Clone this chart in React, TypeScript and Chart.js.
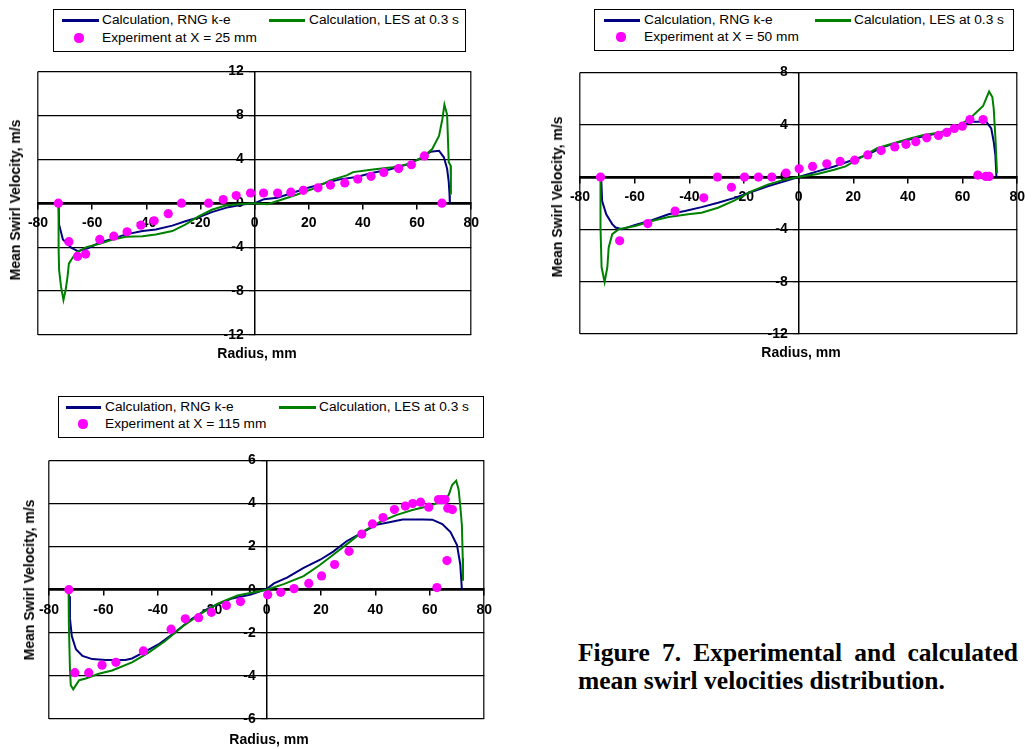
import React, { useEffect, useRef } from "react";
import { Chart, registerables } from "chart.js";

Chart.register(...registerables);

const SANS = "'Liberation Sans', Arial, Helvetica, sans-serif";
const SERIF = "'Liberation Serif', 'Times New Roman', Times, serif";

const RADIUS_MIN = -80;
const RADIUS_MAX = 80;
const RADIUS_STEP = 20;

const LABEL_RNG = "Calculation, RNG k-e";
const LABEL_LES = "Calculation, LES at 0.3 s";
const X_TITLE = "Radius, mm";
const Y_TITLE = "Mean Swirl Velocity, m/s";
const CAPTION_1 = "Figure 7.  Experimental  and  calculated";
const CAPTION_2 = "mean swirl velocities distribution.";

// ---------- X = 25 mm ----------
const rng25R = [-72.4, -72.2, -70.8, -67.7, -65.3, -61.6, -57.3, -51.5, -47.5, -41.4, -36.5, -30.4, -25.6, -20.7, -15.8, -9.7, -3.7, 0, 3.5, 8.4, 13.3, 19.4, 25.5, 31.5, 37.6, 43.7, 49.8, 55.9, 62, 65, 68.1, 69.9, 71.1, 71.7, 72, 72.1];
const rng25V = [0, -1.96, -3.3, -4.06, -4.36, -4.1, -3.6, -3.16, -2.84, -2.54, -2.4, -2.04, -1.65, -1.29, -0.81, -0.36, -0.1, 0, 0.37, 0.5, 0.88, 1.39, 1.78, 2.17, 2.38, 2.77, 3.07, 3.49, 4.18, 4.69, 4.78, 4.18, 3.13, 1.93, 0.73, 0];
const les25R = [-72.4, -72.4, -72.2, -71.5, -70.6, -69.8, -69.1, -68.6, -67.6, -65.8, -62.1, -57.2, -52.4, -47.5, -41.4, -36.5, -30.4, -25.6, -20.7, -15.8, -11, -6.1, 0, 4.75, 9.6, 15.7, 21.8, 27.9, 34, 36.4, 43.7, 51, 57.1, 62, 65.6, 68.1, 69.3, 70.1, 71.1, 71.7, 72.4, 72.5];
const les25V = [0, -4, -6.1, -7.6, -8.8, -7.9, -6.7, -5.5, -5.1, -4.5, -4.0, -3.7, -3.3, -3.05, -3.0, -2.84, -2.54, -1.95, -1.2, -0.6, -0.24, -0.09, 0, -0.1, 0.29, 0.79, 1.33, 2.08, 2.53, 2.83, 3.07, 3.28, 3.58, 4.18, 4.93, 6.13, 7.6, 8.97, 8.07, 3.73, 3.4, 0.8];
const exp25R = [-72.5, -68.6, -65.4, -62.4, -57.2, -52, -47.1, -42, -37.1, -31.9, -27, -17, -11.6, -6.8, -1.5, 3.3, 8.5, 13.4, 18, 23.4, 28, 33.3, 38.1, 43, 47.7, 53.2, 57.9, 62.7, 69.2];
const exp25V = [0, -3.5, -4.85, -4.63, -3.3, -3.0, -2.6, -2.0, -1.6, -0.95, 0, 0, 0.33, 0.7, 0.93, 0.93, 0.93, 1.0, 1.17, 1.4, 1.65, 1.85, 2.2, 2.45, 2.8, 3.15, 3.5, 4.3, 0];

// ---------- X = 50 mm ----------
const rng50R = [-72.5, -72.2, -71.9, -70.4, -68.2, -67, -64.6, -59.8, -53.7, -47.6, -41.6, -35.5, -29.5, -23.4, -17.3, -11.3, -5.2, 0, 6.9, 13, 19, 25.1, 31.2, 37.2, 43.3, 49.3, 55.4, 60.2, 63.9, 68.7, 70.5, 71.4, 72, 72.4];
const rng50V = [0, -0.3, -1.84, -2.85, -3.6, -3.86, -3.99, -3.66, -3.3, -2.85, -2.6, -2.3, -1.97, -1.59, -1.14, -0.71, -0.33, 0, 0.43, 0.81, 1.24, 1.69, 2.32, 2.7, 3.0, 3.26, 3.59, 4.02, 4.22, 4.22, 3.71, 2.7, 1.69, 0];
const les50R = [-72.5, -72.5, -72.1, -71, -70, -69.5, -68.2, -65.8, -59.8, -53.7, -47.6, -40.4, -35.5, -29.5, -23.4, -17.3, -11.3, -5.2, 0, 6.9, 13, 17.2, 22.7, 28.7, 34.8, 40.8, 45.7, 51.8, 57.8, 62.7, 67.5, 69.7, 70.9, 71.4, 72.1, 72.6];
const les50V = [0, -3.86, -6.9, -8.03, -6.9, -5.38, -4.37, -3.99, -3.74, -3.36, -3.06, -2.85, -2.73, -2.35, -1.79, -1.09, -0.58, -0.2, 0, 0.23, 0.56, 0.81, 1.49, 2.2, 2.58, 2.95, 3.21, 3.41, 3.84, 4.47, 5.43, 6.54, 6.11, 5.23, 2.7, 0.3];
const exp50R = [-72.5, -65.5, -55.2, -45.2, -34.7, -29.7, -24.6, -19.8, -14.7, -9.8, -4.6, 0.2, 5.1, 10.3, 15.2, 20.5, 25.3, 30.2, 35.2, 39.3, 42.9, 46.9, 51.2, 54.2, 57, 59.9, 62.7, 67.5, 65.6, 68.5, 69.7];
const exp50V = [0, -4.87, -3.56, -2.6, -1.59, 0, -0.78, 0, 0, 0, 0.3, 0.63, 0.81, 1.01, 1.19, 1.29, 1.69, 2.02, 2.3, 2.5, 2.7, 3.0, 3.18, 3.41, 3.71, 3.89, 4.39, 4.39, 0.15, 0.05, 0.05];

// ---------- X = 115 mm ----------
const rng115R = [-72.8, -72.6, -72.3, -71.6, -70.1, -67.7, -64.1, -59.2, -51.9, -49.5, -45.9, -39.8, -33.7, -27.7, -21.6, -13.1, -5.8, 0, 2.7, 7.5, 13.6, 19.7, 24.5, 29.4, 35.4, 40.3, 45.1, 50, 57.3, 60.9, 64.6, 67.6, 70, 71.2, 71.8];
const rng115V = [0, -0.3, -1.33, -2.16, -2.76, -3.07, -3.22, -3.26, -3.26, -3.19, -2.95, -2.54, -1.98, -1.37, -0.88, -0.42, -0.23, 0.03, 0.29, 0.56, 1.01, 1.39, 1.77, 2.25, 2.67, 3.01, 3.13, 3.26, 3.26, 3.25, 3.05, 2.67, 2.07, 1.16, 0];
const les115R = [-72.8, -72.7, -72.3, -72, -71.1, -70.1, -68.9, -66.5, -61.7, -56.8, -49.5, -43.4, -37.4, -30.1, -24, -18, -10.7, 0, 6.3, 13.6, 19.7, 24.5, 30.6, 35.4, 41.5, 47.6, 53.6, 59.7, 64.6, 67, 68.2, 69.7, 70.6, 71.2, 71.8, 72.1, 72.2];
const les115V = [0, -1.56, -3.67, -4.43, -4.62, -4.43, -4.2, -4.12, -3.9, -3.75, -3.37, -2.92, -2.39, -1.63, -1.1, -0.65, -0.27, 0, 0.26, 0.63, 1.16, 1.62, 2.22, 2.7, 3.13, 3.46, 3.7, 3.88, 4.11, 4.41, 4.86, 5.06, 4.64, 3.88, 2.98, 1.47, 0.41];
const exp115R = [-72.7, -70.5, -65.4, -60.5, -55.4, -45.3, -35.1, -29.9, -25, -20.3, -14.8, -9.6, 0.4, 5.2, 10.1, 15.5, 20.2, 25, 30.3, 35, 38.9, 42.8, 47, 51, 53.7, 56.6, 59.6, 63.2, 64.4, 65.6, 66.6, 68.3, 66.3, 62.6];
const exp115V = [0, -3.85, -3.85, -3.5, -3.37, -2.84, -1.83, -1.35, -1.3, -1.05, -0.73, -0.55, -0.24, -0.12, 0.05, 0.29, 0.64, 1.17, 1.78, 2.58, 3.05, 3.35, 3.72, 3.88, 4.0, 4.06, 3.83, 4.18, 4.18, 4.18, 3.78, 3.72, 1.35, 0.1];

const BLUE = "#000080";
const GREEN = "#008000";
const MAGENTA = "#FF00FF";

type Rect = { l: number; t: number; r: number; b: number };

const PAD = { left: 24, right: 10, top: 10, bottom: 26 };

function pts(xs: number[], ys: number[]) {
  return xs.map((x, i) => ({ x, y: ys[i] }));
}

type PanelProps = {
  plot: Rect;
  yMin: number;
  yMax: number;
  yStep: number;
  rngR: number[];
  rngV: number[];
  lesR: number[];
  lesV: number[];
  expR: number[];
  expV: number[];
};

function Panel(p: PanelProps) {
  const ref = useRef<HTMLCanvasElement | null>(null);
  const w = p.plot.r - p.plot.l + PAD.left + PAD.right;
  const h = p.plot.b - p.plot.t + PAD.top + PAD.bottom;
  useEffect(() => {
    const tickFont = { family: SANS, size: 14, weight: "bold" as const };
    const chart = new Chart(ref.current as HTMLCanvasElement, {
      type: "scatter",
      data: {
        datasets: [
          {
            label: "Experiment",
            data: pts(p.expR, p.expV),
            showLine: false,
            pointRadius: 4.6,
            pointBackgroundColor: MAGENTA,
            pointBorderWidth: 0,
            pointBorderColor: MAGENTA,
            order: 0,
          },
          {
            label: LABEL_LES,
            data: pts(p.lesR, p.lesV),
            showLine: true,
            borderColor: GREEN,
            borderWidth: 2,
            pointRadius: 0,
            tension: 0,
            order: 1,
          },
          {
            label: LABEL_RNG,
            data: pts(p.rngR, p.rngV),
            showLine: true,
            borderColor: BLUE,
            borderWidth: 2,
            pointRadius: 0,
            tension: 0,
            order: 2,
          },
        ],
      },
      options: {
        animation: false,
        responsive: false,
        layout: { padding: PAD },
        plugins: { legend: { display: false }, tooltip: { enabled: false }, title: { display: false } },
        scales: {
          x: {
            type: "linear",
            min: RADIUS_MIN,
            max: RADIUS_MAX,
            position: { y: 0 } as any,
            ticks: { stepSize: RADIUS_STEP, font: tickFont, color: "#000", maxRotation: 0, padding: 7 },
            grid: {
              color: (ctx: any) => (ctx.tick && Math.abs(ctx.tick.value) === RADIUS_MAX ? "#333" : "rgba(0,0,0,0)"),
              lineWidth: 1.5,
              tickColor: "#000",
              tickLength: 5,
              tickWidth: 1.5,
            },
            border: { color: "#000", width: 2.5 },
          },
          y: {
            type: "linear",
            min: p.yMin,
            max: p.yMax,
            position: { x: 0 } as any,
            ticks: {
              stepSize: p.yStep,
              font: tickFont,
              color: "#000",
              padding: 5,
              callback: (v: any) => `${v}\u2002 `,
            },
            grid: {
              color: "#000",
              lineWidth: (ctx: any) => (ctx.tick && ctx.tick.value === 0 ? 2.5 : 1.2),
              tickColor: "#000",
              tickLength: 5,
              tickWidth: 1.2,
            },
            border: { color: "#000", width: 1.5 },
          },
        },
      },
    });
    return () => chart.destroy();
  }, []);
  return (
    <canvas
      ref={ref}
      width={w}
      height={h}
      style={{ position: "absolute", left: p.plot.l - PAD.left, top: p.plot.t - PAD.top, width: w, height: h }}
    />
  );
}

type LegendProps = {
  l: number;
  t: number;
  w: number;
  h: number;
  row1: number;
  row2: number;
  blue: [number, number];
  blueText: number;
  green: [number, number];
  greenText: number;
  dot: number;
  expText: number;
  expLabel: string;
};

function Legend(g: LegendProps) {
  const text = (x: number, y: number, s: string) => (
    <div
      style={{
        position: "absolute",
        left: x,
        top: y - 9,
        height: 18,
        lineHeight: "18px",
        fontFamily: SANS,
        fontSize: 13.7,
        color: "#000",
        whiteSpace: "nowrap",
      }}
    >
      {s}
    </div>
  );
  const line = (x0: number, x1: number, y: number, c: string) => (
    <div style={{ position: "absolute", left: x0, top: y - 1.5, width: x1 - x0, height: 3, background: c }} />
  );
  return (
    <div
      style={{
        position: "absolute",
        left: g.l,
        top: g.t,
        width: g.w,
        height: g.h,
        border: "1px solid #000",
        boxSizing: "border-box",
        background: "#fff",
      }}
    >
      {line(g.blue[0], g.blue[1], g.row1, BLUE)}
      {text(g.blueText, g.row1, LABEL_RNG)}
      {line(g.green[0], g.green[1], g.row1, GREEN)}
      {text(g.greenText, g.row1, LABEL_LES)}
      <div
        style={{
          position: "absolute",
          left: g.dot - 4.6,
          top: g.row2 - 4.6,
          width: 9.2,
          height: 9.2,
          borderRadius: "50%",
          background: MAGENTA,
        }}
      />
      {text(g.expText, g.row2, g.expLabel)}
    </div>
  );
}

function XTitle({ cx, cy }: { cx: number; cy: number }) {
  return (
    <div
      style={{
        position: "absolute",
        left: cx,
        top: cy,
        transform: "translate(-50%, -50%)",
        fontFamily: SANS,
        fontWeight: "bold",
        fontSize: 14,
        whiteSpace: "nowrap",
        color: "#000",
      }}
    >
      {X_TITLE}
    </div>
  );
}

function YTitle({ cx, cy }: { cx: number; cy: number }) {
  return (
    <div
      style={{
        position: "absolute",
        left: cx,
        top: cy,
        transform: "translate(-50%, -50%) rotate(-90deg)",
        fontFamily: SANS,
        fontWeight: "bold",
        fontSize: 14,
        whiteSpace: "nowrap",
        color: "#000",
      }}
    >
      {Y_TITLE}
    </div>
  );
}

export default function App() {
  return (
    <div style={{ position: "absolute", left: 0, top: 0, width: 1032, height: 749, background: "#fff", overflow: "hidden" }}>
      {/* X = 25 mm */}
      <Legend
        l={53} t={9} w={413} h={43} row1={10} row2={28}
        blue={[8, 45]} blueText={48} green={[215, 251]} greenText={255}
        dot={25} expText={48} expLabel="Experiment at X = 25 mm"
      />
      <Panel
        plot={{ l: 38, t: 68, r: 476, b: 335 }}
        yMin={-12} yMax={12} yStep={4}
        rngR={rng25R} rngV={rng25V} lesR={les25R} lesV={les25V} expR={exp25R} expV={exp25V}
      />
      <YTitle cx={15} cy={200} />
      <XTitle cx={257} cy={353} />

      {/* X = 50 mm */}
      <Legend
        l={594} t={9} w={420} h={42} row1={10} row2={27}
        blue={[9, 45]} blueText={49} green={[220, 256]} greenText={259}
        dot={26} expText={49} expLabel="Experiment at X = 50 mm"
      />
      <Panel
        plot={{ l: 580, t: 69, r: 1022, b: 334 }}
        yMin={-12} yMax={8} yStep={4}
        rngR={rng50R} rngV={rng50V} lesR={les50R} lesV={les50V} expR={exp50R} expV={exp50V}
      />
      <YTitle cx={557} cy={197} />
      <XTitle cx={801} cy={352} />

      {/* X = 115 mm */}
      <Legend
        l={58} t={396} w={426} h={42} row1={10} row2={27}
        blue={[7, 42]} blueText={46} green={[220, 257]} greenText={260}
        dot={24} expText={46} expLabel="Experiment at X = 115 mm"
      />
      <Panel
        plot={{ l: 49, t: 457, r: 489, b: 719 }}
        yMin={-6} yMax={6} yStep={2}
        rngR={rng115R} rngV={rng115V} lesR={les115R} lesV={les115V} expR={exp115R} expV={exp115V}
      />
      <YTitle cx={29} cy={580} />
      <XTitle cx={269} cy={739} />

      {/* Caption */}
      <div
        style={{
          position: "absolute",
          left: 578,
          top: 639,
          width: 440,
          fontFamily: SERIF,
          fontWeight: "bold",
          fontSize: 25.5,
          lineHeight: "28px",
          color: "#000",
        }}
      >
        <div style={{ textAlign: "justify", textAlignLast: "justify", whiteSpace: "nowrap" } as React.CSSProperties}>{CAPTION_1}</div>
        <div style={{ whiteSpace: "nowrap" }}>{CAPTION_2}</div>
      </div>
    </div>
  );
}
